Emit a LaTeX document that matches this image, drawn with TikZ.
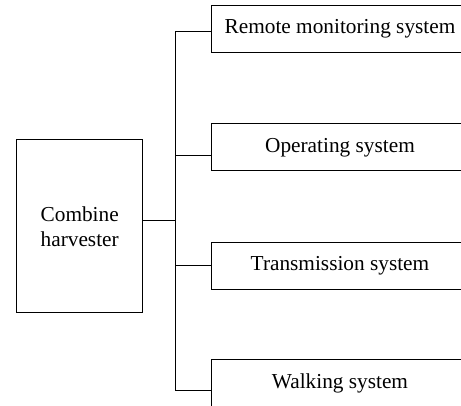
\documentclass[tikz,border=0pt]{standalone}
\usepackage{fontspec}
\setmainfont{Liberation Serif}
\begin{document}
\begin{tikzpicture}[x=1pt,y=-1pt,
  sysbox/.style={draw,line width=1pt,minimum width=258pt,minimum height=47pt,inner sep=0pt,font=\fontsize{21.3}{25}\selectfont},
  mainbox/.style={draw,line width=1pt,minimum width=126pt,minimum height=172.7pt,inner sep=0pt,align=center,font=\fontsize{21.3}{25}\selectfont},
  conn/.style={line width=0.9pt}]
\useasboundingbox (0,0) rectangle (461,406);
\clip (0,0) rectangle (461,406);
\node[mainbox] (ch) at (79.7,226.3) {Combine\\harvester};
\node[sysbox] (b1) at (340,29.2) {Remote monitoring system};
\node[sysbox] (b2) at (340,147.5) {Operating system};
\node[sysbox] (b3) at (340,265.7) {Transmission system};
\node[sysbox] (b4) at (340,383.2) {Walking system};
\coordinate (j0) at (175,220);
\coordinate (j1) at (175,31.7);
\coordinate (j2) at (175,155.3);
\coordinate (j3) at (175,265.3);
\coordinate (j4) at (175,390.7);
\draw[conn] (ch.east |- j0) -- (j0);
\draw[conn] (j1) -- (j4);
\draw[conn] (j1) -- (j1 -| b1.west);
\draw[conn] (j2) -- (j2 -| b2.west);
\draw[conn] (j3) -- (j3 -| b3.west);
\draw[conn] (j4) -- (j4 -| b4.west);
\end{tikzpicture}
\end{document}
